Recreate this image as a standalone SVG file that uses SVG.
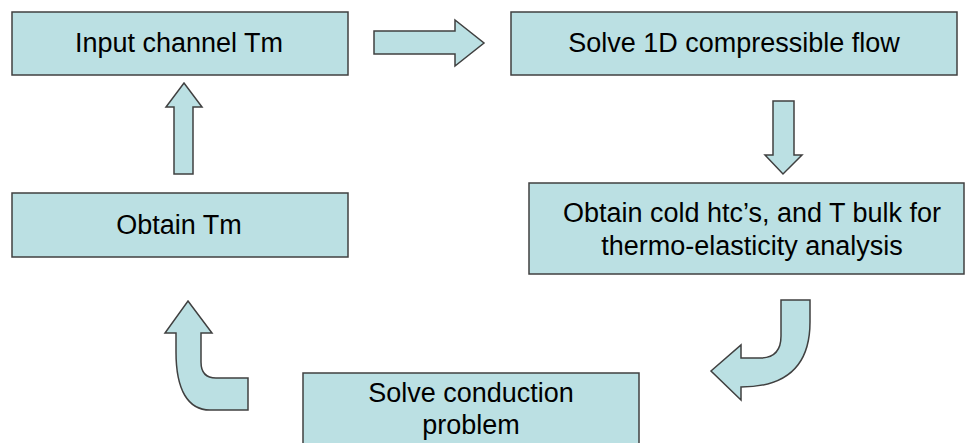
<svg xmlns="http://www.w3.org/2000/svg" width="967" height="443" viewBox="0 0 967 443">
<style>
.box{fill:#BBE0E3;stroke:#404040;stroke-width:1.5}
.arr{fill:#BBE0E3;stroke:#404040;stroke-width:1.5;stroke-linejoin:miter}
text{font-family:"Liberation Sans",Arial,sans-serif;font-size:27px;fill:#000;text-anchor:middle}
</style>
<rect width="967" height="443" fill="#fff"/>
<g id="n-input">
<rect class="box" x="12" y="12" width="336" height="63"/>
<text x="179" y="52">Input channel Tm</text>
</g>
<g id="n-solve1d">
<rect class="box" x="511" y="12" width="446" height="63"/>
<text x="734" y="52">Solve 1D compressible flow</text>
</g>
<g id="n-obtaincold">
<rect class="box" x="529" y="183" width="435" height="91"/>
<text x="752" y="222">Obtain cold htc’s, and T bulk for</text>
<text x="752" y="255">thermo-elasticity analysis</text>
</g>
<g id="n-conduction">
<rect class="box" x="303" y="373" width="336" height="80"/>
<text x="471" y="402">Solve conduction</text>
<text x="471" y="434">problem</text>
</g>
<g id="n-obtaintm">
<rect class="box" x="12" y="193" width="336" height="64"/>
<text x="179" y="234">Obtain Tm</text>
</g>
<g id="connectors">
<path class="arr" d="M374,31 L455,31 L455,20 L484,43 L455,66 L455,54 L374,54 Z"/>
<path class="arr" d="M773,101 L794,101 L794,155 L802,155 L783,174 L765,155 L773,155 Z"/>
<path class="arr" d="M781,300 L810,300 L810,322 C810,365 787,387 741,387 L741,400 L711,371 L741,345 L741,358 L760,358 Q781,358 781,336 Z"/>
<path class="arr" d="M188,301 L212,333 L201,333 L201,362 Q201,378 216,378 L248,378 L248,410 L210,410 C188,410 176,390 176,352 L176,333 L165,333 Z"/>
<path class="arr" d="M174,174 L174,107 L166,107 L184,83 L202,107 L193,107 L193,174 Z"/>
</g>
</svg>
